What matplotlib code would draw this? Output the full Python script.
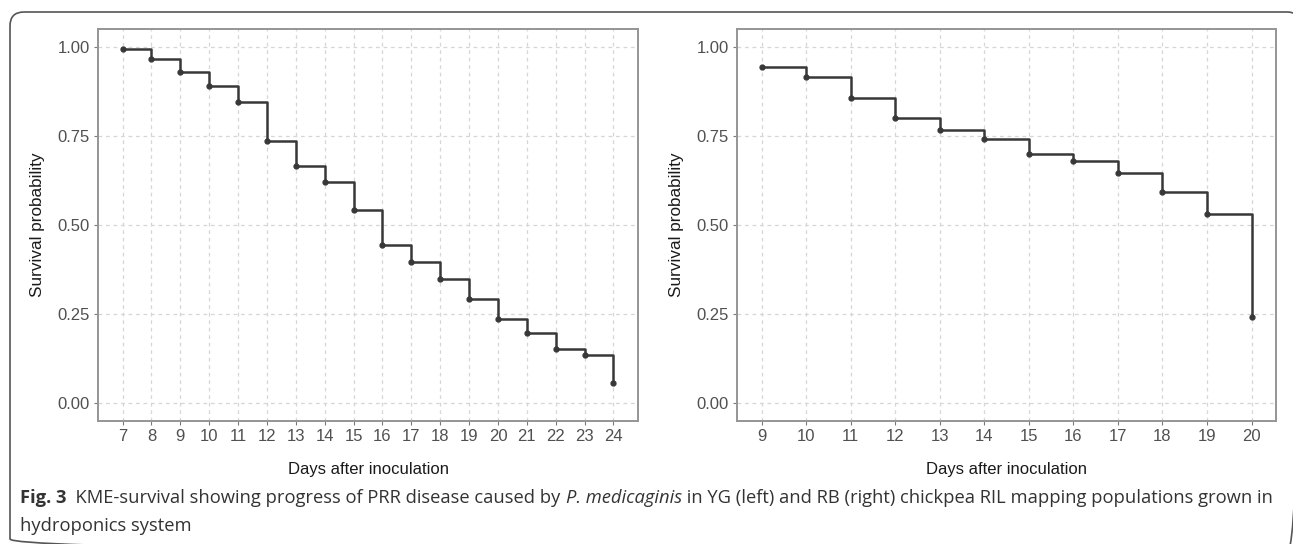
import matplotlib
matplotlib.use("Agg")
import matplotlib.pyplot as plt
from matplotlib.patches import FancyBboxPatch

# Data
days_left = [7, 8, 9, 10, 11, 12, 13, 14, 15, 16, 17, 18, 19, 20, 21, 22, 23, 24]
surv_left = [0.995, 0.967, 0.930, 0.890, 0.845, 0.737, 0.665, 0.620, 0.542, 0.443,
             0.395, 0.348, 0.292, 0.236, 0.197, 0.153, 0.135, 0.057]
days_right = [9, 10, 11, 12, 13, 14, 15, 16, 17, 18, 19, 20]
surv_right = [0.943, 0.916, 0.855, 0.800, 0.767, 0.740, 0.700, 0.680, 0.647, 0.592, 0.530, 0.243]
yticks = [0.0, 0.25, 0.5, 0.75, 1.0]
ytick_labels = ["0.00", "0.25", "0.50", "0.75", "1.00"]
xlabel = "Days after inoculation"
ylabel = "Survival probability"

W, H = 1293, 544
plt.rcParams["font.family"] = ["Liberation Sans", "DejaVu Sans"]
fig = plt.figure(figsize=(W / 100, H / 100), dpi=100)
fig.patch.set_facecolor("white")

def px_axes(x0, y0, x1, y1):
    return fig.add_axes([x0 / W, 1 - y1 / H, (x1 - x0) / W, (y1 - y0) / H])

# background pixel-space axes for the frame box
bg = fig.add_axes([0, 0, 1, 1], zorder=-1)
bg.set_xlim(0, W)
bg.set_ylim(H, 0)
bg.axis("off")
bx0, by0, bx1, by1 = 10, 12, 1301, 553
box = FancyBboxPatch((bx0, by0), bx1 - bx0, by1 - by0,
                     boxstyle="round,pad=0,rounding_size=14",
                     fill=False, ec="#555555", lw=1.2, clip_on=False)
bg.add_patch(box)

line_col = "#383838"
grid_col = "#d6d6d6"

def draw_panel(ax, days, surv):
    ax.step(days, surv, where="post", color=line_col, lw=1.8, zorder=3)
    ax.plot(days, surv, "o", color=line_col, ms=3.5, zorder=4)
    lo, hi = days[0], days[-1]
    pad = (hi - lo) * 0.05
    ax.set_xlim(lo - pad, hi + pad)
    ax.set_ylim(-0.05, 1.05)
    ax.set_xticks(days)
    ax.set_xticklabels([str(d) for d in days])
    ax.set_yticks(yticks)
    ax.set_yticklabels(ytick_labels)
    ax.grid(True, color=grid_col, ls=(0, (3, 3)), lw=0.9)
    ax.set_axisbelow(True)
    for s in ax.spines.values():
        s.set_color("#959595")
        s.set_linewidth(1.4)
    ax.tick_params(axis="both", colors="#7a7a7a", labelsize=12, length=3, width=0.8, pad=3)
    for lab in ax.get_xticklabels() + ax.get_yticklabels():
        lab.set_color("#505050")
    ax.set_xlabel(xlabel, fontsize=12, color="#1a1a1a", labelpad=13)
    ax.set_ylabel(ylabel, fontsize=12.3, color="#1a1a1a", labelpad=9)

ax1 = px_axes(98, 29, 638, 421)
draw_panel(ax1, days_left, surv_left)
ax2 = px_axes(737, 29, 1276, 421)
draw_panel(ax2, days_right, surv_right)

# caption
cap_parts = [
    ("Fig. 3", "bold", "normal"),
    ("  KME-survival showing progress of PRR disease caused by ", "normal", "normal"),
    ("P. medicaginis", "normal", "italic"),
    (" in YG (left) and RB (right) chickpea RIL mapping populations grown in", "normal", "normal"),
]
cap_line2 = "hydroponics system"
cap_font = ["Open Sans", "DejaVu Sans"]
cap_col = "#333333"
cap_x0, cap_x1 = 20, 1275

fig.canvas.draw()
renderer = fig.canvas.get_renderer()
base = 10.0
tot = 0
for txt, wt, st in cap_parts:
    t = fig.text(0, 0, txt, fontsize=base, fontweight=wt, fontstyle=st, family=cap_font)
    tot += t.get_window_extent(renderer=renderer).width
    t.remove()
fs = base * (cap_x1 - cap_x0) / tot

x = cap_x0
y = 498
for txt, wt, st in cap_parts:
    t = fig.text(x / W, 1 - y / H, txt, fontsize=fs, fontweight=wt, fontstyle=st,
                 color=cap_col, family=cap_font, va="center", ha="left")
    x += t.get_window_extent(renderer=renderer).width
fig.text(cap_x0 / W, 1 - 526 / H, cap_line2, fontsize=fs, color=cap_col,
         family=cap_font, va="center", ha="left")

fig.savefig("out.png", dpi=100)
